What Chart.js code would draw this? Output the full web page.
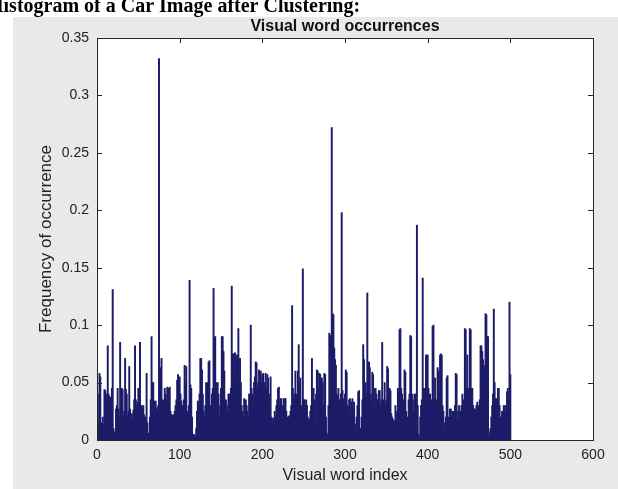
<!DOCTYPE html>
<html>
<head>
<meta charset="utf-8">
<title>Visual word occurrences</title>
<script src="https://cdn.jsdelivr.net/npm/chart.js@4.4.1/dist/chart.umd.min.js"></script>
<style>
  html, body { margin: 0; padding: 0; background: #ffffff; }
  canvas { display: block; }
</style>
</head>
<body>
<canvas id="histChart" width="618" height="489"></canvas>
<script>
// heading above the figure (cut off in the original screenshot)
const pageHeading = "Histogram of a Car Image after Clustering:";
const chartTitle = "Visual word occurrences";
const xTitle = "Visual word index";
const yTitle = "Frequency of occurrence";

const xTicks = [0, 100, 200, 300, 400, 500, 600];
const yTicks = [0, 0.05, 0.1, 0.15, 0.2, 0.25, 0.3, 0.35];

// frequency of each visual word, index 1..500
const frequencies = [
  0.040, 0.013, 0.058, 0.055, 0.015, 0.012, 0.020, 0.013, 0.044, 0.043,
  0.040, 0.015, 0.082, 0.040, 0.038, 0.037, 0.012, 0.045, 0.131, 0.010,
  0.005, 0.007, 0.027, 0.030, 0.045, 0.027, 0.020, 0.085, 0.030, 0.045,
  0.044, 0.020, 0.025, 0.071, 0.044, 0.040, 0.020, 0.025, 0.064, 0.027,
  0.020, 0.023, 0.018, 0.026, 0.035, 0.082, 0.035, 0.030, 0.033, 0.045,
  0.038, 0.085, 0.030, 0.030, 0.028, 0.030, 0.022, 0.018, 0.020, 0.058,
  0.015, 0.006, 0.004, 0.020, 0.035, 0.090, 0.050, 0.050, 0.034, 0.030,
  0.034, 0.028, 0.025, 0.030, 0.332, 0.035, 0.063, 0.071, 0.034, 0.035,
  0.030, 0.045, 0.040, 0.035, 0.046, 0.030, 0.045, 0.046, 0.025, 0.022,
  0.020, 0.022, 0.018, 0.025, 0.030, 0.035, 0.052, 0.057, 0.050, 0.055,
  0.040, 0.034, 0.030, 0.028, 0.035, 0.065, 0.050, 0.064, 0.025, 0.020,
  0.030, 0.139, 0.048, 0.045, 0.020, 0.004, 0.005, 0.003, 0.004, 0.010,
  0.025, 0.034, 0.030, 0.040, 0.071, 0.071, 0.061, 0.040, 0.025, 0.020,
  0.030, 0.050, 0.048, 0.050, 0.068, 0.069, 0.030, 0.020, 0.040, 0.045,
  0.132, 0.090, 0.090, 0.050, 0.040, 0.050, 0.040, 0.020, 0.030, 0.045,
  0.090, 0.090, 0.077, 0.060, 0.030, 0.035, 0.030, 0.025, 0.040, 0.040,
  0.030, 0.045, 0.134, 0.075, 0.075, 0.050, 0.076, 0.074, 0.070, 0.074,
  0.097, 0.060, 0.071, 0.050, 0.030, 0.025, 0.020, 0.036, 0.030, 0.035,
  0.030, 0.025, 0.020, 0.040, 0.035, 0.100, 0.045, 0.040, 0.030, 0.050,
  0.055, 0.068, 0.067, 0.045, 0.050, 0.061, 0.045, 0.060, 0.050, 0.057,
  0.058, 0.040, 0.050, 0.058, 0.045, 0.057, 0.054, 0.040, 0.030, 0.055,
  0.020, 0.012, 0.019, 0.018, 0.025, 0.020, 0.030, 0.035, 0.045, 0.046,
  0.030, 0.036, 0.036, 0.025, 0.030, 0.036, 0.036, 0.036, 0.025, 0.020,
  0.018, 0.021, 0.019, 0.025, 0.030, 0.117, 0.045, 0.035, 0.040, 0.060,
  0.040, 0.035, 0.060, 0.083, 0.050, 0.054, 0.030, 0.025, 0.149, 0.035,
  0.035, 0.030, 0.035, 0.030, 0.020, 0.018, 0.018, 0.025, 0.030, 0.071,
  0.045, 0.045, 0.035, 0.010, 0.040, 0.061, 0.060, 0.045, 0.058, 0.057,
  0.045, 0.054, 0.050, 0.030, 0.058, 0.057, 0.020, 0.006, 0.004, 0.030,
  0.093, 0.091, 0.040, 0.272, 0.110, 0.109, 0.080, 0.070, 0.065, 0.040,
  0.038, 0.045, 0.035, 0.030, 0.040, 0.198, 0.043, 0.036, 0.025, 0.040,
  0.061, 0.059, 0.030, 0.028, 0.035, 0.036, 0.020, 0.033, 0.036, 0.025,
  0.033, 0.014, 0.010, 0.020, 0.030, 0.042, 0.043, 0.010, 0.010, 0.020,
  0.035, 0.083, 0.070, 0.045, 0.050, 0.040, 0.128, 0.065, 0.068, 0.063,
  0.040, 0.035, 0.059, 0.057, 0.045, 0.030, 0.045, 0.040, 0.035, 0.025,
  0.043, 0.043, 0.030, 0.035, 0.085, 0.035, 0.025, 0.050, 0.030, 0.035,
  0.064, 0.062, 0.040, 0.045, 0.043, 0.023, 0.020, 0.018, 0.017, 0.015,
  0.030, 0.017, 0.025, 0.045, 0.040, 0.096, 0.097, 0.045, 0.040, 0.030,
  0.035, 0.061, 0.059, 0.025, 0.018, 0.020, 0.035, 0.040, 0.091, 0.090,
  0.040, 0.035, 0.025, 0.040, 0.040, 0.035, 0.187, 0.030, 0.005, 0.002,
  0.020, 0.030, 0.035, 0.141, 0.045, 0.045, 0.040, 0.074, 0.074, 0.074,
  0.045, 0.040, 0.040, 0.035, 0.030, 0.099, 0.100, 0.035, 0.054, 0.030,
  0.035, 0.063, 0.060, 0.040, 0.074, 0.075, 0.074, 0.030, 0.025, 0.005,
  0.015, 0.020, 0.054, 0.056, 0.020, 0.010, 0.027, 0.027, 0.020, 0.025,
  0.025, 0.020, 0.030, 0.058, 0.057, 0.018, 0.025, 0.030, 0.020, 0.025,
  0.030, 0.040, 0.035, 0.030, 0.097, 0.096, 0.045, 0.074, 0.045, 0.030,
  0.097, 0.096, 0.045, 0.045, 0.030, 0.027, 0.027, 0.025, 0.030, 0.033,
  0.027, 0.030, 0.035, 0.082, 0.082, 0.077, 0.070, 0.065, 0.060, 0.110,
  0.109, 0.090, 0.090, 0.007, 0.002, 0.010, 0.020, 0.030, 0.040, 0.114,
  0.050, 0.036, 0.036, 0.030, 0.045, 0.045, 0.030, 0.020, 0.020, 0.025,
  0.020, 0.030, 0.030, 0.025, 0.030, 0.042, 0.045, 0.035, 0.120, 0.057
];

const barColor = "#1c1c68";
const figureGray = "#e9e9e9";

// figure background, heading and the matlab style axes box with inward ticks
const matlabFigure = {
  id: "matlabFigure",
  beforeDraw(chart) {
    const ctx = chart.ctx;
    const area = chart.chartArea;
    ctx.save();
    ctx.fillStyle = "#ffffff";
    ctx.fillRect(0, 0, chart.width, chart.height);
    ctx.fillStyle = figureGray;
    ctx.fillRect(13, 17, chart.width - 13, chart.height - 17);
    ctx.fillStyle = "#ffffff";
    ctx.fillRect(area.left, area.top, area.right - area.left, area.bottom - area.top);
    ctx.fillStyle = "#000000";
    ctx.font = 'bold 20px "Liberation Serif", serif';
    ctx.textBaseline = "alphabetic";
    ctx.fillText(pageHeading, -12, 12);
    ctx.restore();
  },
  afterDraw(chart) {
    const ctx = chart.ctx;
    const area = chart.chartArea;
    const xs = chart.scales.x;
    const ys = chart.scales.y;
    const tickLen = 5;
    ctx.save();
    ctx.strokeStyle = "#262626";
    ctx.lineWidth = 1;
    ctx.beginPath();
    xTicks.forEach(function(t) {
      const px = Math.round(xs.getPixelForValue(t)) + 0.5;
      ctx.moveTo(px, area.bottom);
      ctx.lineTo(px, area.bottom - tickLen);
      ctx.moveTo(px, area.top);
      ctx.lineTo(px, area.top + tickLen);
    });
    yTicks.forEach(function(t) {
      const py = Math.round(ys.getPixelForValue(t)) + 0.5;
      ctx.moveTo(area.left, py);
      ctx.lineTo(area.left + tickLen, py);
      ctx.moveTo(area.right, py);
      ctx.lineTo(area.right - tickLen, py);
    });
    ctx.stroke();
    ctx.strokeRect(Math.round(area.left) + 0.5, Math.round(area.top) + 0.5,
      Math.round(area.right - area.left), Math.round(area.bottom - area.top));
    ctx.restore();
  }
};

const ctx = document.getElementById("histChart").getContext("2d");

const histChart = new Chart(ctx, {
  type: "bar",
  data: {
    datasets: [{
      label: chartTitle,
      data: frequencies.map((f, i) => ({ x: i + 1, y: f })),
      backgroundColor: barColor,
      borderWidth: 0,
      barThickness: 1.3,
      grouped: false
    }]
  },
  options: {
    responsive: false,
    animation: false,
    devicePixelRatio: 1,
    layout: {
      padding: { left: 0, right: 25, top: 12, bottom: 0 }
    },
    plugins: {
      legend: { display: false },
      tooltip: { enabled: false },
      title: {
        display: true,
        text: chartTitle,
        fullSize: false,
        color: "#111111",
        font: { family: '"Liberation Sans", Arial, sans-serif', size: 16, weight: "bold" },
        padding: { top: 5, bottom: 1.8 }
      }
    },
    scales: {
      x: {
        type: "linear",
        offset: false,
        min: 0,
        max: 600,
        grid: { display: false, drawTicks: false, offset: false },
        border: { display: false },
        afterBuildTicks: function(scale) {
          scale.ticks = xTicks.map(v => ({ value: v }));
        },
        afterFit: function(scale) {
          scale.height = 49;
          scale.paddingLeft = 0;
          scale.paddingRight = 0;
        },
        ticks: {
          padding: 7,
          maxRotation: 0,
          color: "#222222",
          font: { family: '"Liberation Sans", Arial, sans-serif', size: 14 }
        },
        title: {
          display: true,
          text: xTitle,
          color: "#222222",
          font: { family: '"Liberation Sans", Arial, sans-serif', size: 16 },
          padding: { top: 0, bottom: 3.4 }
        }
      },
      y: {
        min: 0,
        max: 0.35,
        grid: { display: false, drawTicks: false },
        border: { display: false },
        afterBuildTicks: function(scale) {
          scale.ticks = yTicks.map(v => ({ value: v }));
        },
        afterFit: function(scale) {
          scale.width = 97;
          scale.paddingTop = 0;
          scale.paddingBottom = 0;
        },
        ticks: {
          padding: 8,
          color: "#222222",
          font: { family: '"Liberation Sans", Arial, sans-serif', size: 14 },
          callback: function(value) {
            return String(+Number(value).toFixed(2));
          }
        },
        title: {
          display: true,
          text: yTitle,
          color: "#222222",
          font: { family: '"Liberation Sans", Arial, sans-serif', size: 17 },
          padding: { top: 36.5, bottom: 0 }
        }
      }
    }
  },
  plugins: [matlabFigure]
});
</script>
</body>
</html>
